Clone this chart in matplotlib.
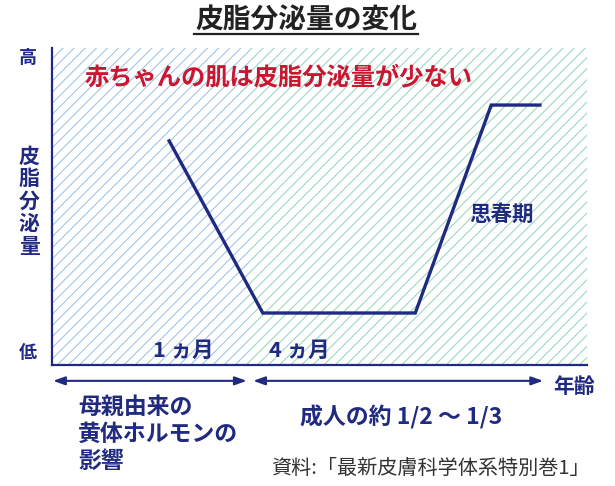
import matplotlib
matplotlib.use("Agg")
import matplotlib.pyplot as plt
from matplotlib.lines import Line2D

plt.rcParams["font.family"] = ["Noto Sans CJK JP", "DejaVu Sans"]
plt.rcParams["hatch.linewidth"] = 0.7

# curve of sebum output (x: age position, y: relative level)
curve_x = [21.9, 39.4, 67.9, 82.1, 91.2]
curve_y = [70.7, 16.4, 16.4, 82.0, 82.0]

# shaded periods
period_edges = [0.0, 37.0, 100.0]
period_colors = ["#94c0e6", "#8fd4b8"]

# age ranges shown by the arrows under the axis
arrow_ranges = [(0.2, 36.4), (37.6, 91.8)]

NAVY = "#1f2a80"

fig = plt.figure(figsize=(6.15, 4.86), dpi=100)
ax = fig.add_axes([52 / 615, 1 - 365 / 486, 535 / 615, 317 / 486])
ax.set_xlim(0, 100)
ax.set_ylim(0, 100)

for i, col in enumerate(period_colors):
    ax.axvspan(period_edges[i], period_edges[i + 1], facecolor="white",
               edgecolor=col, hatch="///", linewidth=0, zorder=0)

ax.plot(curve_x, curve_y, color=NAVY, lw=2.4, solid_joinstyle="miter", zorder=3)

for s in ["top", "right"]:
    ax.spines[s].set_visible(False)
for s in ["left", "bottom"]:
    ax.spines[s].set_color(NAVY)
    ax.spines[s].set_linewidth(1.6)
ax.set_xticks([])
ax.set_yticks([])

for x0, x1 in arrow_ranges:
    ax.annotate("", xy=(x1, -5.0), xytext=(x0, -5.0), annotation_clip=False,
                arrowprops=dict(arrowstyle="<|-|>,head_length=0.7,head_width=0.25",
                                color=NAVY, lw=1.5, shrinkA=0, shrinkB=0))

# texts inside the plot
ax.text(6.1, 90.5, "赤ちゃんの肌は皮脂分泌量が少ない", color="#cc1530",
        fontsize=17.5, fontweight="bold", va="center", ha="left")
ax.text(78.0, 47.6, "思春期", color=NAVY, fontsize=15.5, fontweight="bold",
        va="center", ha="left")
ax.text(18.9, 4.5, "1 ヵ月", color=NAVY, fontsize=15.5, fontweight="bold",
        va="center", ha="left")
ax.text(40.6, 4.5, "4 ヵ月", color=NAVY, fontsize=15.5, fontweight="bold",
        va="center", ha="left")

# figure-level labels
def ftext(px, py, s, **kw):
    fig.text(px / 615, 1 - py / 486, s, **kw)

ftext(306, 21, "皮脂分泌量の変化", color="#222222", fontsize=20,
      fontweight="bold", ha="center", va="center")
fig.add_artist(Line2D([194 / 615, 418 / 615], [1 - 34 / 486, 1 - 34 / 486],
                      color="#222222", lw=1.6))

ftext(28, 57, "高", color=NAVY, fontsize=13, fontweight="bold",
      ha="center", va="center")
ftext(28, 352, "低", color=NAVY, fontsize=13, fontweight="bold",
      ha="center", va="center")
for k, ch in enumerate("皮脂分泌量"):
    ftext(29, 156 + k * 22.5, ch, color=NAVY, fontsize=15, fontweight="bold",
          ha="center", va="center")

ftext(553, 386, "年齢", color=NAVY, fontsize=15, fontweight="bold",
      ha="left", va="center")

for k, line in enumerate(["母親由来の", "黄体ホルモンの", "影響"]):
    ftext(78, 407 + k * 27, line, color=NAVY, fontsize=16.5,
          fontweight="bold", ha="left", va="center")

ftext(300, 417, "成人の約 1/2 ～ 1/3", color=NAVY, fontsize=16.5,
      fontweight="bold", ha="left", va="center")
ftext(271, 468, "資料:「最新皮膚科学体系特別巻1」", color="#333333",
      fontsize=14.5, ha="left", va="center")

fig.savefig("out.png", dpi=100)
